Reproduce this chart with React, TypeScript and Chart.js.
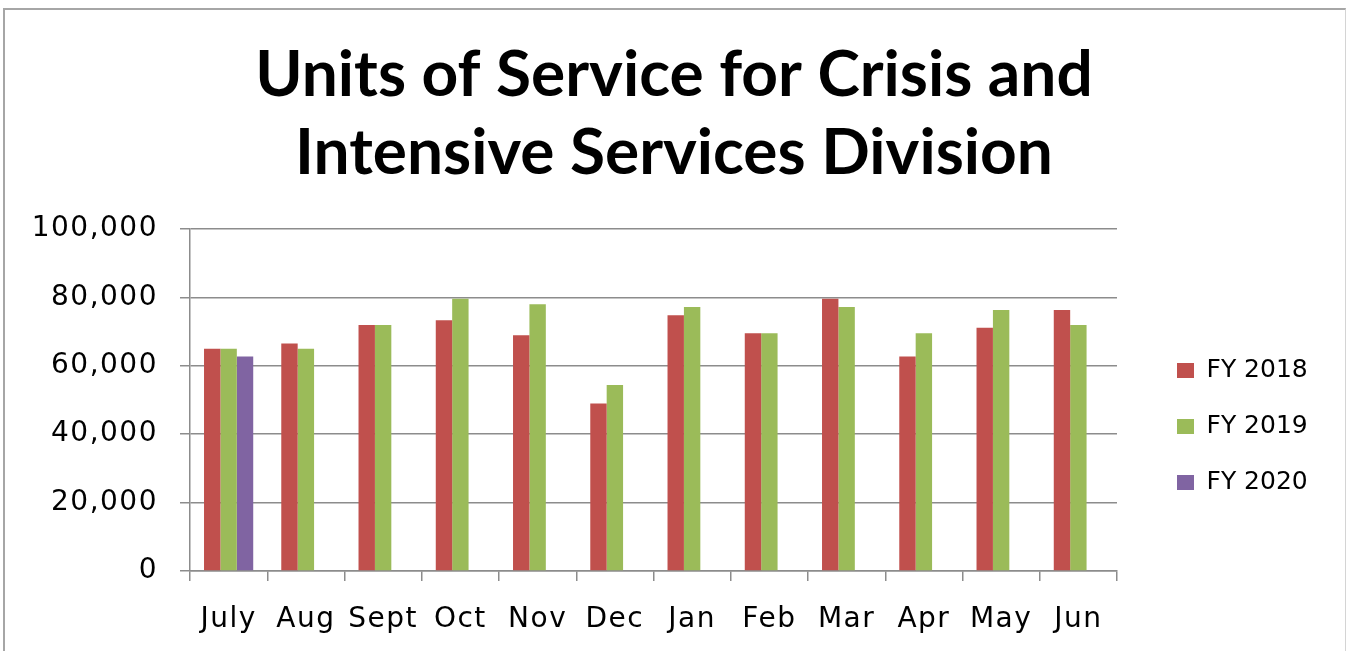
import { useEffect, useRef } from "react";
import { Chart, registerables } from "chart.js";

Chart.register(...registerables);

const months = ["July", "Aug", "Sept", "Oct", "Nov", "Dec", "Jan", "Feb", "Mar", "Apr", "May", "Jun"];
const fy2018 = [65000, 66500, 71900, 73300, 68900, 49000, 74800, 69500, 79600, 62700, 71100, 76300];
const fy2019 = [65000, 65000, 71900, 79600, 78000, 54400, 77200, 69500, 77200, 69500, 76300, 71900];
const fy2020: (number | null)[] = [62700, null, null, null, null, null, null, null, null, null, null, null];
const seriesNames = ["FY 2018", "FY 2019", "FY 2020"];
const titleLines = ["Units of Service for Crisis and", "Intensive Services Division"];
const yMin = 0;
const yMax = 100000;
const yStep = 20000;

const W = 1348;
const H = 651;

export default function App() {
  const ref = useRef<HTMLCanvasElement | null>(null);

  useEffect(() => {
    const canvas = ref.current;
    if (!canvas) return;

    const legendPlace = {
      id: "legendPlace",
      beforeLayout(chart: any) {
        const l = chart.legend;
        if (l && !l._patched) {
          const orig = l.fit.bind(l);
          l.fit = function () {
            orig();
            this.width = 231;
          };
          l._patched = true;
        }
      },
      afterLayout(chart: any) {
        const l = chart.legend;
        if (l) {
          const dx = 1146 - l.left;
          l.left += dx;
          l.right += dx;
          const dy = 327 - l.top;
          l.top += dy;
          l.bottom += dy;
        }
        Object.values(chart.scales).forEach((s: any) => {
          if (s._lsPatched) return;
          const origDraw = s.drawLabels.bind(s);
          s.drawLabels = function (area: any) {
            const ctx = this.ctx;
            const prev = ctx.letterSpacing;
            ctx.letterSpacing = "1.5px";
            origDraw(area);
            ctx.letterSpacing = prev || "0px";
          };
          s._lsPatched = true;
        });
      },
    };

    const chart = new Chart(canvas, {
      type: "bar",
      data: {
        labels: months,
        datasets: [
          { label: seriesNames[0], data: fy2018, backgroundColor: "#C0504D" },
          { label: seriesNames[1], data: fy2019, backgroundColor: "#9BBB59" },
          { label: seriesNames[2], data: fy2020, backgroundColor: "#8064A2" },
        ],
      },
      options: {
        responsive: false,
        animation: false,
        devicePixelRatio: 1,
        layout: { padding: 0 },
        datasets: {
          bar: { categoryPercentage: 0.637, barPercentage: 1 },
        },
        scales: {
          x: {
            offset: true,
            grid: {
              display: true,
              offset: true,
              drawOnChartArea: false,
              drawTicks: true,
              tickLength: 10,
              color: "#8c8c8c",
              lineWidth: 1.5,
            },
            border: { display: true, color: "#8c8c8c", width: 1.5 },
            ticks: {
              color: "#000",
              font: { family: "DejaVu Sans", size: 28 },
              padding: 22,
              maxRotation: 0,
              autoSkip: false,
            },
            afterFit(scale: any) {
              scale.height = 80;
            },
          },
          y: {
            min: yMin,
            max: yMax,
            ticks: {
              stepSize: yStep,
              color: "#000",
              font: { family: "DejaVu Sans", size: 28 },
              padding: 22,
              callback: (v: any) => Number(v).toLocaleString("en-US"),
            },
            grid: {
              color: "#8c8c8c",
              lineWidth: 1.5,
              drawTicks: true,
              tickLength: 10,
            },
            border: { display: true, color: "#8c8c8c", width: 1.5 },
            afterFit(scale: any) {
              scale.width = 190;
            },
          },
        },
        plugins: {
          title: {
            display: true,
            text: titleLines,
            color: "#000",
            font: { family: "Lato", size: 64, weight: "bold", lineHeight: 78 / 64 },
            padding: { top: 36, bottom: 37 },
          },
          legend: {
            display: true,
            position: "right",
            align: "start",
            labels: {
              color: "#000",
              font: { family: "DejaVu Sans", size: 25 },
              boxWidth: 17,
              boxHeight: 15,
              padding: 31,
            },
          },
          tooltip: { enabled: false },
        },
      },
      plugins: [legendPlace],
    });

    return () => chart.destroy();
  }, []);

  return (
    <div
      style={{
        position: "fixed",
        left: 0,
        top: 0,
        width: W,
        height: H,
        overflow: "hidden",
        background: "#fff",
      }}
    >
      <div
        style={{
          position: "absolute",
          left: 3,
          top: 8,
          width: 1340,
          height: 700,
          borderTop: "2px solid #a6a6a6",
          borderLeft: "2px solid #a6a6a6",
          borderRight: "1px solid #d4d4d4",
        }}
      />
      <canvas
        ref={ref}
        width={W}
        height={H}
        style={{ position: "absolute", left: 0, top: 0, width: W, height: H, display: "block" }}
      />
    </div>
  );
}
